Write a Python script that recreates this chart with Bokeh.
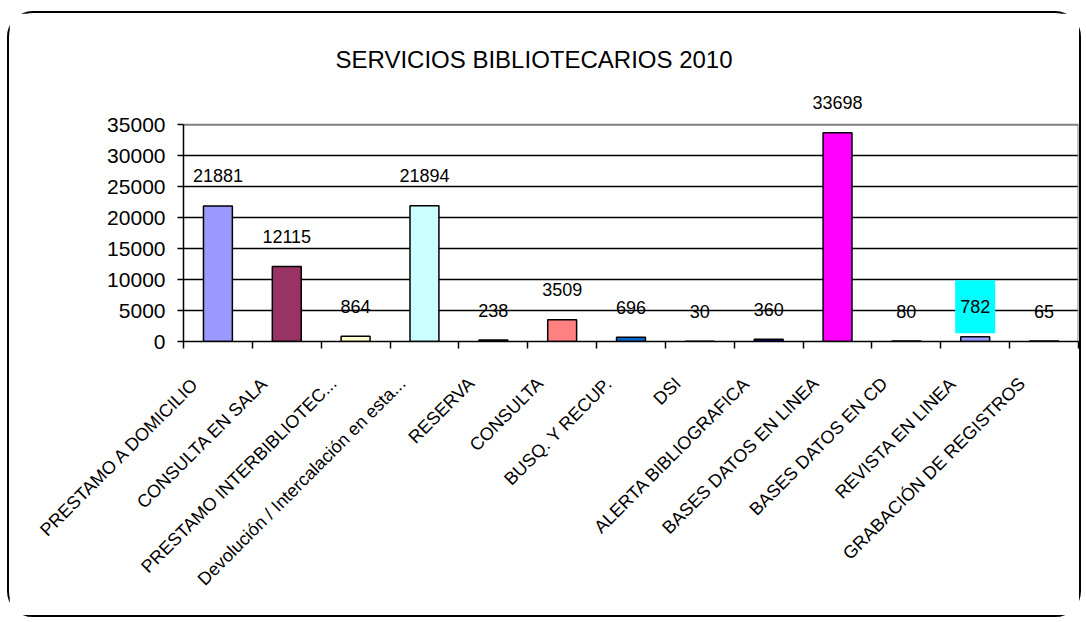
import math
from bokeh.plotting import figure
from bokeh.models import (ColumnDataSource, Range1d, LinearAxis, FixedTicker, LabelSet,
                          LinearScale)
from bokeh.core.properties import value
from bokeh.embed import file_html
from bokeh.resources import INLINE

# ---- data ----
categories = [
    "PRESTAMO A DOMICILIO",
    "CONSULTA EN SALA",
    "PRESTAMO INTERBIBLIOTEC...",
    "Devolución / Intercalación en esta...",
    "RESERVA",
    "CONSULTA",
    "BUSQ. Y RECUP.",
    "DSI",
    "ALERTA BIBLIOGRAFICA",
    "BASES DATOS EN LINEA",
    "BASES DATOS EN CD",
    "REVISTA EN LINEA",
    "GRABACIÓN DE REGISTROS",
]
values = [21881, 12115, 864, 21894, 238, 3509, 696, 30, 360, 33698, 80, 782, 65]
y_ticks = [0, 5000, 10000, 15000, 20000, 25000, 30000, 35000]
title_text = "SERVICIOS BIBLIOTECARIOS 2010"
highlight_category = "REVISTA EN LINEA"

# ---- styles ----
palette = ["#9999FF", "#993366", "#FFFFCC", "#CCFFFF", "#660066", "#FF8080", "#0066CC",
           "#CCCCFF", "#000080", "#FF00FF", "#FFFF00", "#9999FF", "#00FFFF"]
FONT = "Liberation Sans"
LABEL_SHIFT = 0.32      # category-label shift (in category units) to the left
HEADROOM = 6000         # room above the plot area for the value labels

n = len(categories)
centers = [i + 0.5 for i in range(n)]
edges = list(range(n + 1))

src = ColumnDataSource(dict(x=centers, val=values, color=palette))
hi = categories.index(highlight_category)
normal_idx = [i for i in range(n) if i != hi]
src_norm = ColumnDataSource(dict(x=[centers[i] for i in normal_idx],
                                 val=[values[i] for i in normal_idx],
                                 label=[str(values[i]) for i in normal_idx]))
src_hi = ColumnDataSource(dict(x=[centers[hi]], val=[values[hi]], label=[str(values[hi])]))

p = figure(width=1074, height=606,
           x_range=Range1d(edges[0], edges[-1]),
           y_range=Range1d(y_ticks[0], y_ticks[-1] + HEADROOM),
           x_axis_location=None, y_axis_location="left",
           output_backend="svg", toolbar_location=None,
           min_border_left=174, min_border_right=5, min_border_top=74, min_border_bottom=278,
           styles={"border": "2px solid #000000", "border-radius": "26px",
                   "margin-left": "7px", "margin-top": "11px"})
p.background_fill_color = "white"
p.border_fill_color = "white"
p.outline_line_color = None

# title
p.title.text = title_text
p.title.align = "left"
p.title.offset = 152
p.title.standoff = 30
p.title.text_font = FONT
p.title.text_font_size = "24px"
p.title.text_font_style = "normal"
p.title.text_color = "black"

# y axis
yax = p.yaxis[0]
yax.ticker = FixedTicker(ticks=y_ticks)
yax.bounds = (y_ticks[0], y_ticks[-1])
yax.major_tick_out = 6
yax.major_tick_in = 0
yax.minor_tick_out = 0
yax.minor_tick_in = 0
yax.axis_line_color = "black"
yax.axis_line_width = 1.5
yax.major_tick_line_width = 1.5
yax.major_label_standoff = 12
yax.major_label_text_font = FONT
yax.major_label_text_font_size = "21px"
yax.major_label_text_color = "black"

p.ygrid.ticker = FixedTicker(ticks=y_ticks[1:-1])
p.ygrid.grid_line_color = "black"
p.ygrid.grid_line_width = 1.5
p.xgrid.grid_line_color = None

# plot-area border (top and right), grey
p.line(x=[edges[0], edges[-1], edges[-1]], y=[y_ticks[-1], y_ticks[-1], y_ticks[0]],
       line_color="#808080", line_width=2)

# x axis: tick marks at category boundaries (minor ticks only, no labels)
tick_axis = LinearAxis(ticker=FixedTicker(ticks=[], minor_ticks=edges),
                       major_tick_out=0, major_tick_in=0, minor_tick_out=7, minor_tick_in=0,
                       minor_tick_line_color="black", minor_tick_line_width=1.5,
                       major_label_standoff=0,
                       axis_line_color="black", axis_line_width=1.5)
p.add_layout(tick_axis, "below")

# x labels at category centres (slightly shifted left, as in the original)
p.extra_x_ranges = {"lab": Range1d(edges[0] + LABEL_SHIFT, edges[-1] + LABEL_SHIFT)}
p.extra_x_scales = {"lab": LinearScale()}
label_axis = LinearAxis(x_range_name="lab", ticker=FixedTicker(ticks=centers),
                        major_label_overrides={c: name for c, name in zip(centers, categories)},
                        major_tick_out=0, major_tick_in=0, minor_tick_out=0, minor_tick_in=0,
                        axis_line_color=None, major_tick_line_color=None,
                        major_label_orientation=math.pi / 4,
                        major_label_standoff=32,
                        major_label_text_font=FONT,
                        major_label_text_font_size="18px",
                        major_label_text_color="black")
p.add_layout(label_axis, "below")

# bars
p.vbar(x="x", top="val", width=0.42, source=src, fill_color="color",
       line_color="black", line_width=1.5)

# value labels
labels = LabelSet(x="x", y="val", text="label", source=src_norm, y_offset=30,
                  text_align="center", text_baseline="middle",
                  text_font=value(FONT), text_font_size="18px", text_color="black")
p.add_layout(labels)

p.text(x="x", y="val", text="label", source=src_hi, y_offset=-30,
       text_align="center", text_baseline="middle",
       text_font=value(FONT), text_font_size="18px", text_color="black",
       background_fill_color="#00FFFF", padding=(5, 20))

open("out.html", "w").write(file_html(p, INLINE))
